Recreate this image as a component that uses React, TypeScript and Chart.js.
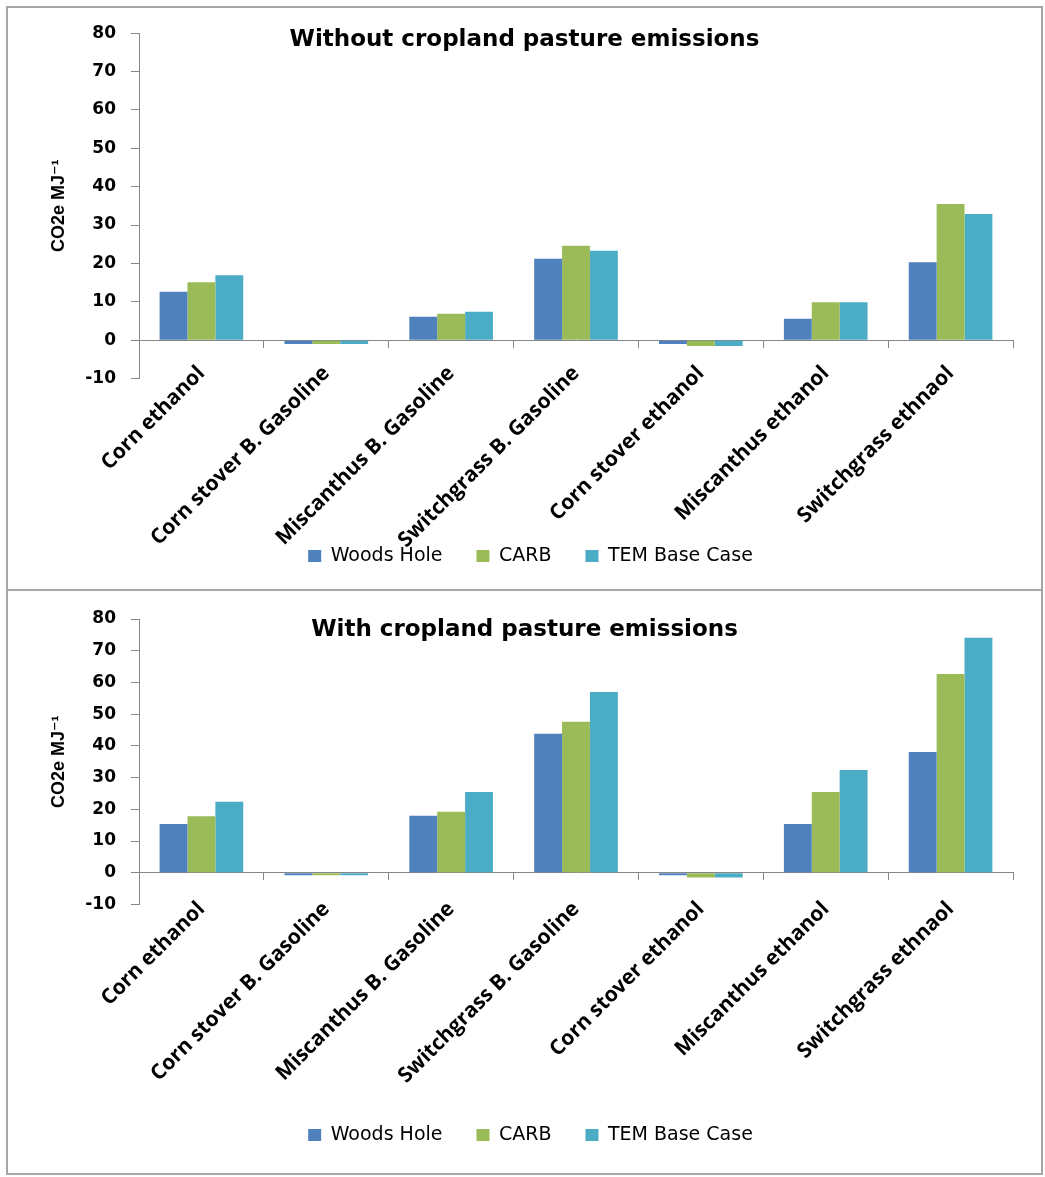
import React, { useEffect, useRef } from 'react';
import { Chart, registerables } from 'chart.js';

Chart.register(...registerables);

// ---------- data ----------
const categories = [
  'Corn ethanol',
  'Corn stover B. Gasoline',
  'Miscanthus B. Gasoline',
  'Switchgrass B. Gasoline',
  'Corn stover ethanol',
  'Miscanthus ethanol',
  'Switchgrass ethnaol',
];
const seriesNames = ['Woods Hole', 'CARB', 'TEM Base Case'];
const seriesColors = ['#4F81BD', '#9BBB59', '#4BACC6'];

const yMin = -10;
const yMax = 80;
const yStep = 10;

const withoutWoodsHole = [12.6, -1.0, 6.1, 21.2, -1.0, 5.6, 20.3];
const withoutCARB = [15.1, -1.0, 6.9, 24.6, -1.5, 9.9, 35.5];
const withoutTEM = [16.9, -1.0, 7.4, 23.3, -1.5, 9.9, 32.9];

const withWoodsHole = [15.4, -0.8, 18.0, 43.8, -0.8, 15.4, 38.1];
const withCARB = [17.8, -0.8, 19.2, 47.6, -1.5, 25.5, 62.7];
const withTEM = [22.4, -0.8, 25.5, 57.0, -1.5, 32.4, 74.1];

const titleWithout = 'Without cropland pasture emissions';
const titleWith = 'With cropland pasture emissions';
const yAxisTitle = 'CO2e MJ\u207B\u00B9';

// ---------- helpers ----------
const AXIS_GREY = '#868686';

const panelTitlePlugin = {
  id: 'panelTitle',
  afterDraw(chart: any, _args: any, opts: any) {
    if (!opts || !opts.text) return;
    const { ctx } = chart;
    ctx.save();
    ctx.font = opts.font;
    ctx.fillStyle = '#000';
    ctx.textAlign = 'center';
    ctx.textBaseline = 'middle';
    ctx.fillText(opts.text, chart.width / 2 + (opts.dx || 0), opts.y);
    ctx.restore();
  },
};

function buildConfig(title: string, series: number[][], lay: any) {
  return {
    type: 'bar' as const,
    data: {
      labels: categories,
      datasets: series.map((vals, i) => ({
        label: seriesNames[i],
        data: vals,
        backgroundColor: seriesColors[i],
        borderWidth: 0,
        categoryPercentage: 0.67,
        barPercentage: 1.0,
      })),
    },
    plugins: [panelTitlePlugin],
    options: {
      responsive: false,
      animation: false as const,
      devicePixelRatio: 1,
      layout: {
        padding: { left: 40, right: 28, top: lay.top, bottom: lay.bottom },
      },
      plugins: {
        legend: {
          position: 'bottom' as const,
          labels: {
            boxWidth: 13,
            boxHeight: 12,
            padding: 34,
            color: '#000',
            font: { family: '"DejaVu Sans"', size: 19 },
          },
        },
        tooltip: { enabled: false },
        title: { display: false },
        panelTitle: {
          text: title,
          font: 'bold 23px "DejaVu Sans"',
          y: lay.titleY,
          dx: 0,
        },
      },
      scales: {
        // spacer axis carrying the bars; reserves room for the rotated labels
        x: {
          type: 'category' as const,
          position: 'bottom' as const,
          grid: { display: false, drawTicks: false },
          border: { display: false },
          ticks: { display: false },
          afterFit: (scale: any) => {
            scale.height = lay.xHeight;
          },
        },
        // category axis crossing at value 0, with labels and boundary tick marks
        x2: {
          type: 'category' as const,
          position: { y: 0 },
          offset: true,
          grid: {
            display: true,
            offset: true,
            drawOnChartArea: false,
            drawTicks: true,
            tickLength: 7,
            color: AXIS_GREY,
            lineWidth: 1,
          },
          border: { display: true, color: AXIS_GREY, width: 1 },
          ticks: {
            autoSkip: false,
            maxRotation: 45,
            minRotation: 45,
            padding: lay.labelPad,
            color: '#000',
            font: { family: '"Open Sans"', weight: 'bold' as const, size: 21 },
          },
        },
        y: {
          min: yMin,
          max: yMax,
          ticks: {
            stepSize: yStep,
            padding: 15,
            color: '#000',
            font: { family: '"DejaVu Sans"', weight: 'bold' as const, size: 17 },
          },
          grid: {
            drawOnChartArea: false,
            drawTicks: true,
            tickLength: 8,
            tickColor: AXIS_GREY,
            color: AXIS_GREY,
          },
          border: { display: true, color: AXIS_GREY, width: 1 },
          title: {
            display: true,
            text: yAxisTitle,
            color: '#000',
            padding: 0,
            font: { family: '"Liberation Sans", "DejaVu Sans"', weight: 'bold' as const, size: 18 },
          },
          afterFit: (scale: any) => {
            scale.width = 91;
          },
        },
      },
    },
  };
}

function Panel(props: { title: string; series: number[][]; lay: any; height: number }) {
  const ref = useRef<HTMLCanvasElement>(null);
  useEffect(() => {
    if (!ref.current) return;
    const chart = new Chart(ref.current, buildConfig(props.title, props.series, props.lay) as any);
    return () => chart.destroy();
  }, []);
  return <canvas ref={ref} width={1033} height={props.height} style={{ display: 'block' }} />;
}

export default function App() {
  return (
    <div
      style={{
        position: 'absolute',
        left: 6,
        top: 6,
        width: 1033,
        border: '2px solid #a6a6a6',
        background: '#fff',
      }}
    >
      <div style={{ height: 581, borderBottom: '2px solid #a6a6a6' }}>
        <Panel
          title={titleWithout}
          series={[withoutWoodsHole, withoutCARB, withoutTEM]}
          lay={{ top: 23, bottom: 13.5, xHeight: 134, labelPad: 14, titleY: 32 }}
          height={581}
        />
      </div>
      <div style={{ height: 582 }}>
        <Panel
          title={titleWith}
          series={[withWoodsHole, withCARB, withTEM]}
          lay={{ top: 28, bottom: 18.5, xHeight: 187, labelPad: 17, titleY: 39 }}
          height={582}
        />
      </div>
    </div>
  );
}
